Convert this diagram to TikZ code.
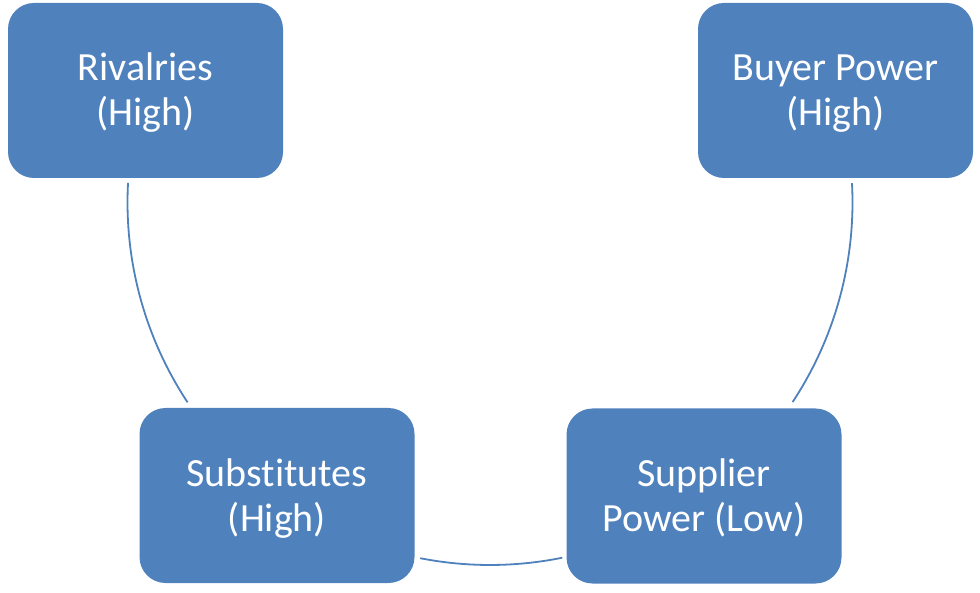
\documentclass[tikz,border=0pt]{standalone}
\usepackage{fontspec}
\setmainfont{Carlito}[Ligatures={NoCommon}]
\definecolor{boxblue}{HTML}{4F81BD}
\newcommand\cardtext[2]{\raisebox{-4pt}[\height][\depth]{\begin{tabular}{@{}c@{}}#1\\#2\end{tabular}}}
\begin{document}
\begin{tikzpicture}[x=1pt,y=1pt,
  card/.style={fill=boxblue, draw=none, rounded corners=26pt, minimum width=275pt, minimum height=175pt, inner sep=0pt, text=white, align=center, font=\fontsize{40}{45}\selectfont},
  link/.style={draw=boxblue, line width=1.8pt}]
\useasboundingbox (0,0) rectangle (980,592);
\node[card] (riv) at (145.5,501.5) {\cardtext{Rivalries}{(High)}};
\node[card] (buy) at (835.5,501.5) {\cardtext{Buyer Power}{(High)}};
\node[card] (sub) at (277,96.5) {\cardtext{Substitutes}{(High)}};
\node[card] (sup) at (704,96) {\cardtext{Supplier}{Power (Low)}};
\coordinate (O) at (490,389.5);
\coordinate (a1) at ([shift={(176.9:362.5)}]O);
\coordinate (b1) at ([shift={(258.9:362.5)}]O);
\coordinate (c1) at ([shift={(326.6:362.5)}]O);
\draw[link] (a1) arc[start angle=176.9, end angle=213.45, radius=362.5];
\draw[link] (b1) arc[start angle=258.9, end angle=281.5, radius=362.5];
\draw[link] (c1) arc[start angle=326.6, end angle=363.07, radius=362.5];
\end{tikzpicture}
\end{document}
